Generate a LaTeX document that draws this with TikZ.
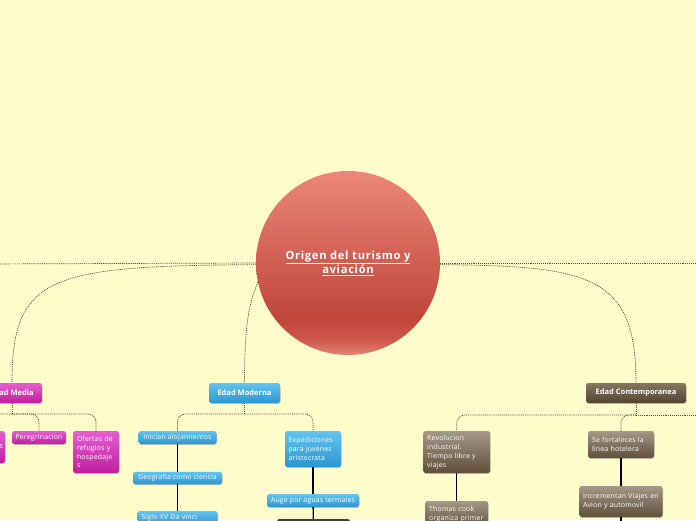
\documentclass[tikz,border=0pt]{standalone}
\usepackage{fontspec}
\setmainfont{Open Sans}
\newfontfamily\boxfont[LetterSpace=3]{Open Sans}
\newfontfamily\titlefont[LetterSpace=6]{Open Sans}
\usetikzlibrary{shadows}
\definecolor{bg}{HTML}{FFFBCB}
\definecolor{dotc}{HTML}{4D4D40}
\definecolor{magT}{HTML}{E35FCE}
\definecolor{magB}{HTML}{C11E9E}
\definecolor{bluT}{HTML}{62C3EE}
\definecolor{bluB}{HTML}{2C96D0}
\definecolor{brnT}{HTML}{857662}
\definecolor{brnB}{HTML}{54452F}
\definecolor{bchT}{HTML}{A59886}
\definecolor{bchB}{HTML}{5F4F3B}
\definecolor{ballA}{HTML}{E5837A}
\definecolor{ballB}{HTML}{D0594C}
\definecolor{ballC}{HTML}{BF4537}
\definecolor{ballD}{HTML}{EB877C}
\pgfdeclareverticalshading{ballshade}{100bp}{color(0bp)=(ballA); color(25bp)=(ballA); color(29bp)=(ballB); color(35bp)=(ballC); color(75bp)=(ballD); color(100bp)=(ballD)}
\tikzset{
  conn/.style={draw=dotc, line width=0.7pt, dash pattern=on 1pt off 0.9pt},
  link/.style={draw=black, line width=1.3pt},
  box/.style={rounded corners=2.5pt, inner sep=0pt, text=white,
    font=\boxfont\fontsize{6.9}{8.8}\selectfont, align=left,
    drop shadow={shadow xshift=0.5pt, shadow yshift=-0.9pt, opacity=0.3, fill=black!70}},
  head/.style={box, font=\fontsize{7.5}{9}\bfseries\selectfont, align=center},
  sz/.style 2 args={minimum width=#1pt, minimum height=#2pt},
  tw/.style={text width=#1pt, align=left},
  mag/.style={top color=magT, bottom color=magB},
  blu/.style={top color=bluT, bottom color=bluB},
  brn/.style={top color=brnT, bottom color=brnB},
  bch/.style={top color=bchT, bottom color=bchB},
}
\begin{document}
\begin{tikzpicture}[x=1pt,y=-1pt]
\useasboundingbox (0,0) rectangle (696,520);
\clip (0,0) rectangle (696,520);
\fill[bg] (0,0) rectangle (696,520);

% central topic
\node[circle, minimum size=184pt, inner sep=0pt, shading=ballshade, text=white,
  font=\titlefont\fontsize{11.2}{13}\bfseries\selectfont, align=center] (c) at (348,263)
  {\underline{Origen del turismo y}\\\underline{aviación}};

% main nodes
\node[head, mag, sz={60}{20}] (em) at (12,393) {Edad Media};
\node[head, blu, sz={71}{20}] (mod) at (244.5,393) {Edad Moderna};
\node[head, brn, sz={100}{20}] (con) at (636,393) {Edad Contemporanea};

\coordinate (offL) at (-20,264);
\coordinate (offR) at (716,263);

% connectors from centre
\draw[conn] (c.west) -- (offL);
\draw[conn] (c.east) -- (offR);
\draw[conn] (c.181) .. controls (50,266) and (12,275) .. (em.north);
\draw[conn] (c.192) .. controls (251,300) and (244.5,315) .. (mod.north);
\draw[conn] (c.359) .. controls (590,266) and (636,275) .. (con.north);

% Edad Media children
\node[box, mag, sz={55}{32}, text width=51pt, align=right] (emL) at (-22.5,447) {s};
\node[box, mag, sz={54}{13}, align=center] (per) at (39,437.5) {Peregrinacion};
\node[box, mag, sz={46}{42}, tw=38] (ofe) at (96,452) {Ofertas~de\\refugios~y\\hospedaje\\s};
\coordinate (jem) at (12,414);
\draw[conn] (em.south) -- (jem);
\draw[conn, rounded corners=8pt] (jem) -| (emL.north);
\draw[conn, rounded corners=8pt] (jem) -| (per.north);
\draw[conn, rounded corners=8pt] (jem) -| (ofe.north);

% Edad Moderna children
\node[box, blu, sz={78}{13}, align=center] (ini) at (177.5,437.5) {Inician alojamientos};
\node[box, blu, sz={89}{12.5}, align=center] (geo) at (177.5,478) {Geografia como ciencia};
\node[box, blu, sz={80}{14}, tw=72] (sig) at (177.5,518) {Siglo~XV~Da~vinci};
\node[box, blu, sz={56}{36}, tw=49] (exp) at (313,449) {Expediciones\\para~jovenes\\aristocrata};
\node[box, blu, sz={92}{13}, align=center] (aug) at (313,500.5) {Auge por aguas termales};
\node[box, top color=black!75, bottom color=black!90, sz={73}{20}] (blk) at (313.5,529) {};
\coordinate (jmod) at (244.5,414);
\draw[conn] (mod.south) -- (jmod);
\draw[conn, rounded corners=8pt] (jmod) -| (ini.north);
\draw[conn, rounded corners=8pt] (jmod) -| (exp.north);
\draw[link] (ini) -- (geo);
\draw[link] (geo) -- (sig);
\draw[link] (exp) -- (aug);
\draw[link] (aug) -- (blk);

% Edad Contemporanea children
\node[box, bch, sz={67}{42}, tw=59] (rev) at (456.7,452) {Revolucion\\industrial.\\Tiempo~libre~y\\viajes};
\node[box, bch, sz={63}{27}, tw=55] (tho) at (456.7,514.5) {Thomas~cook\\organiza~primer};
\node[box, bch, sz={66}{27}, tw=58] (sef) at (621,444.5) {Se~fortaleces~la\\linea~hotelera};
\node[box, bch, sz={83}{31}, tw=76] (inc) at (621,501.5) {Incrementan~Viajes~en\\Avion~y~automovil};
\coordinate (incC) at (621,535);
\coordinate (jcon) at (636,415);
\coordinate (offR2) at (716,415);
\draw[conn] (con.south) -- (jcon);
\draw[conn, rounded corners=8pt] (jcon) -| (rev.north);
\draw[conn, rounded corners=8pt] (jcon) -| (sef.north);
\draw[conn] (jcon) -- (offR2);
\draw[link] (rev) -- (tho);
\draw[link] (sef) -- (inc);
\draw[link] (inc) -- (incC);
\end{tikzpicture}
\end{document}
